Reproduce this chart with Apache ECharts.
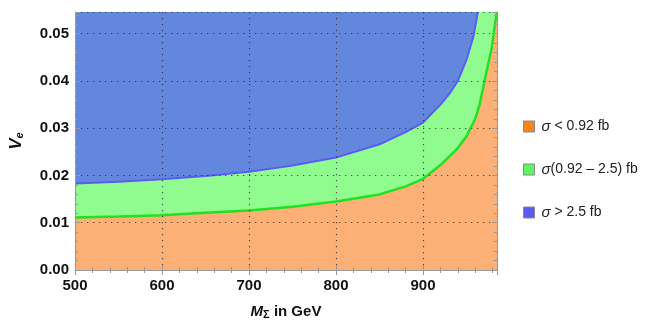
<!DOCTYPE html>
<html><head><meta charset="utf-8">
<script src="https://cdn.jsdelivr.net/npm/echarts@6/dist/echarts.min.js"></script>
<style>html,body{margin:0;padding:0;background:#fff}#c{width:664px;height:325px}</style>
</head><body><div id="c"></div>
<script>
// Upper boundary (sigma = 0.92 fb) : mass (GeV) and V_e
const greenMass = [500, 550, 600, 650, 700, 750, 800, 850, 880, 900, 920, 940, 950, 960, 965, 973, 979, 983, 985];
const greenVe   = [0.0111, 0.0113, 0.0116, 0.0121, 0.0126, 0.0134, 0.0145, 0.0160, 0.0177, 0.0193, 0.0222, 0.0258, 0.0283, 0.0320, 0.0350, 0.0420, 0.0470, 0.0525, 0.0546];
// Boundary sigma = 2.5 fb
const blueMass = [500, 550, 600, 650, 700, 750, 800, 850, 880, 900, 920, 930, 940, 950, 958, 963];
const blueVe   = [0.0183, 0.0187, 0.0192, 0.0199, 0.0208, 0.0221, 0.0238, 0.0266, 0.0292, 0.0312, 0.0350, 0.0372, 0.0400, 0.0445, 0.0495, 0.0546];
const xTicks = [500, 600, 700, 800, 900];
const yTicks = [0.00, 0.01, 0.02, 0.03, 0.04, 0.05];
const legendNames = ['σ < 0.92 fb', 'σ(0.92 – 2.5) fb', 'σ > 2.5 fb'];
const xMin = 500, xMax = 985, yMin = 0, yMax = 0.0546;

const pair = (xs, ys) => xs.map((x, i) => [x, ys[i]]);
const FONT = 'Liberation Sans';
const chart = echarts.init(document.getElementById('c'), null, {renderer: 'canvas'});
const gridCol = 'rgba(45,45,45,0.8)';
const frameCol = '#9a9a9a';
const baseAxis = {
  type: 'value', min: 0, max: 0,
  axisLine: {show: true, lineStyle: {color: frameCol, width: 1}},
  axisTick: {show: true, inside: true, length: 5, lineStyle: {color: frameCol}},
  minorTick: {show: true, splitNumber: 5, length: 3, lineStyle: {color: frameCol}},
  splitLine: {show: false}, minorSplitLine: {show: false}
};
const option = {
  animation: false,
  grid: {left: 73, right: 167, top: 12, bottom: 51},
  xAxis: [
    Object.assign({}, baseAxis, {
      min: xMin, max: xMax, interval: 100, position: 'bottom', z: 5,
      axisLabel: {show: true, margin: 8, color: '#111', fontFamily: FONT, fontWeight: 'bold', fontSize: 15,
        formatter: v => xTicks.includes(v) ? String(v) : ''},
      splitLine: {show: true, lineStyle: {color: gridCol, type: [1.3, 4.7], width: 1.2}},
      name: '{m|M}{s|Σ}{t| in GeV}', nameLocation: 'middle', nameGap: 33,
      nameTextStyle: {rich: {
        m: {fontFamily: FONT, fontWeight: 'bold', fontStyle: 'italic', fontSize: 15, color: '#111'},
        s: {fontFamily: FONT, fontWeight: 'bold', fontSize: 11, color: '#111', verticalAlign: 'bottom', padding: [6, 0, 0, 0]},
        t: {fontFamily: FONT, fontWeight: 'bold', fontSize: 15, color: '#111'}
      }}
    }),
    Object.assign({}, baseAxis, {min: xMin, max: xMax, interval: 100, position: 'top', z: 5, axisLabel: {show: false}})
  ],
  yAxis: [
    Object.assign({}, baseAxis, {
      min: yMin, max: yMax, interval: 0.01, position: 'left', z: 5,
      axisLabel: {show: true, margin: 6, color: '#111', fontFamily: FONT, fontWeight: 'bold', fontSize: 15,
        formatter: v => yTicks.some(t => Math.abs(t - v) < 1e-9) ? v.toFixed(2) : ''},
      splitLine: {show: true, lineStyle: {color: gridCol, type: [1.3, 4.7], width: 1.2}},
      name: '{v|V}{e|e}', nameLocation: 'middle', nameGap: 50, nameRotate: 90,
      nameTextStyle: {rich: {
        v: {fontFamily: FONT, fontWeight: 'bold', fontStyle: 'italic', fontSize: 17, color: '#111'},
        e: {fontFamily: FONT, fontWeight: 'bold', fontStyle: 'italic', fontSize: 11, color: '#111', verticalAlign: 'bottom', padding: [6, 0, 0, 0]}
      }}
    }),
    Object.assign({}, baseAxis, {min: yMin, max: yMax, interval: 0.01, position: 'right', z: 5, axisLabel: {show: false}})
  ],
  legend: {
    orient: 'vertical', left: 518, top: 114, itemGap: 28, icon: 'rect',
    itemWidth: 11, itemHeight: 11, selectedMode: false,
    data: [
      {name: legendNames[0], itemStyle: {color: '#f5841f', borderColor: '#8a8a8a', borderWidth: 1}},
      {name: legendNames[1], itemStyle: {color: '#5ff55f', borderColor: '#8a8a8a', borderWidth: 1}},
      {name: legendNames[2], itemStyle: {color: '#5b5bf0', borderColor: '#8a8a8a', borderWidth: 1}}
    ],
    formatter: n => n.replace('σ', '{i|σ}'),
    textStyle: {fontFamily: FONT, fontSize: 14, color: '#222', padding: [0, 0, 0, 2],
      rich: {i: {fontFamily: FONT, fontStyle: 'italic', fontSize: 15, color: '#222'}}}
  },
  series: [
    {name: legendNames[0], type: 'line', data: pair(greenMass, greenVe), showSymbol: false, z: 1,
      lineStyle: {width: 0}, areaStyle: {color: '#fdb076', opacity: 1, origin: 'start'}, itemStyle: {color: '#f5841f'}},
    {name: legendNames[1], type: 'line', data: pair(greenMass, greenVe), showSymbol: false, z: 2,
      lineStyle: {width: 2.5, color: '#22e022'}, areaStyle: {color: '#90fc90', opacity: 1, origin: 'end'}, itemStyle: {color: '#5ff55f'}},
    {name: legendNames[2], type: 'line', data: pair(blueMass, blueVe), showSymbol: false, z: 3,
      lineStyle: {width: 2, color: '#5a5cf2'}, areaStyle: {color: '#6487de', opacity: 1, origin: 'end'}, itemStyle: {color: '#5b5bf0'}}
  ]
};
chart.setOption(option);
</script></body></html>
